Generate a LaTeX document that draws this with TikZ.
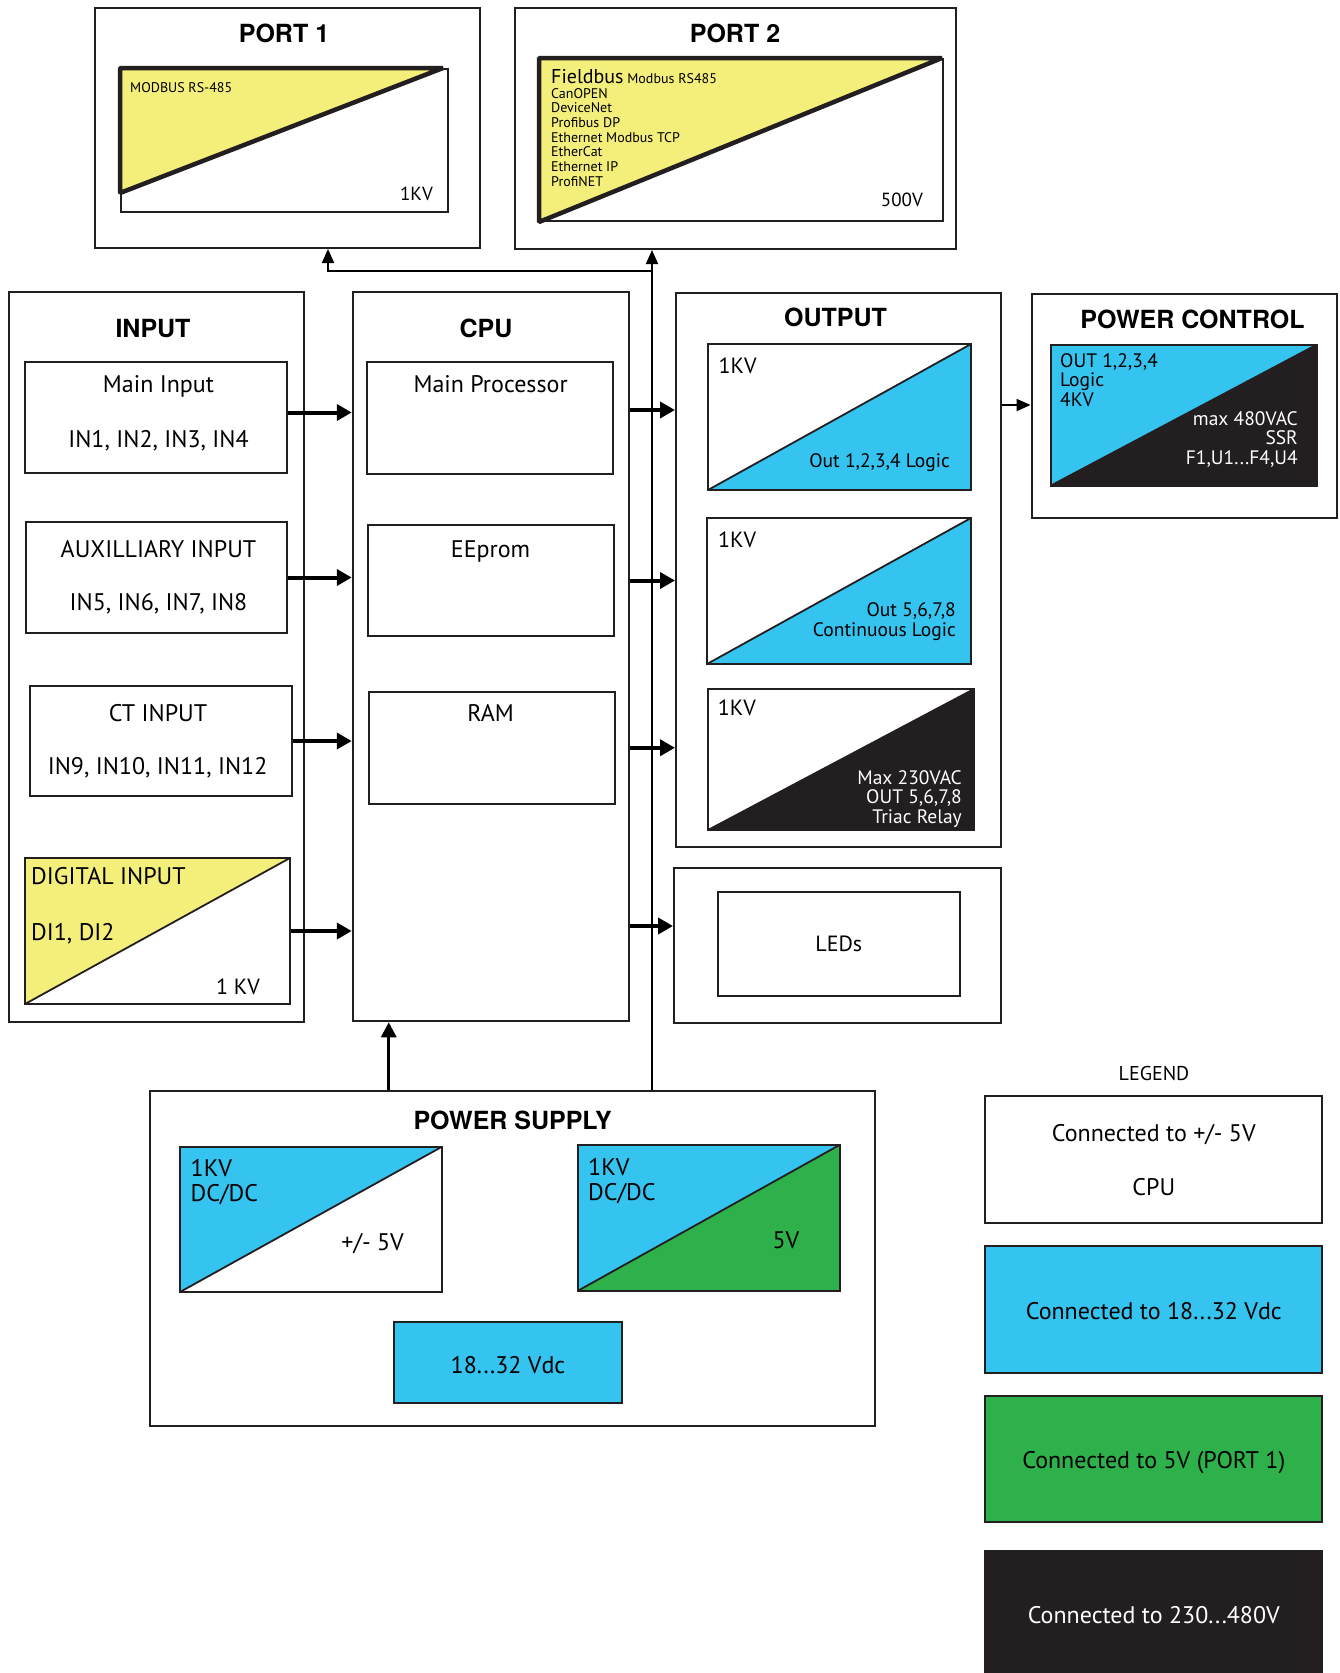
\documentclass[tikz,border=0pt]{standalone}
\usepackage{fontspec}
\setmainfont{PT Sans}
\newfontfamily\headfont{TeX Gyre Heros}
\usepackage{tikz}
\usetikzlibrary{arrows.meta, calc}
\definecolor{portyellow}{RGB}{244, 238, 122}
\definecolor{sigblue}{RGB}{53, 195, 239}
\definecolor{fivegreen}{RGB}{46, 176, 75}
\definecolor{mainsblack}{RGB}{35, 31, 32}

\tikzset{
    box/.style={draw=mainsblack, line width=2pt, inner sep=0pt},
    split/.style 2 args={path picture={
        \fill[#1] (path picture bounding box.south west) -- (path picture bounding box.north west) -- (path picture bounding box.north east) -- cycle;
        \fill[#2] (path picture bounding box.south west) -- (path picture bounding box.south east) -- (path picture bounding box.north east) -- cycle;
        \draw[mainsblack, line width=1.8pt] (path picture bounding box.south west) -- (path picture bounding box.north east);}},
    title/.style={font=\headfont\bfseries\fontsize{25}{30}\selectfont, inner sep=0pt, anchor=base},
    txt/.style={font=\fontsize{24}{25}\selectfont, inner sep=0pt},
    mid/.style={font=\fontsize{19.5}{19.5}\selectfont, inner sep=0pt},
    tiny/.style={font=\fontsize{19.5}{19.5}\selectfont, inner sep=0pt},
    small/.style={font=\fontsize{14}{14.7}\selectfont, inner sep=0pt},
    arr/.style={line width=4pt, -{Triangle[length=15pt, width=16pt]}},
    thinarr/.style={line width=2pt, -{Triangle[length=14pt, width=12pt]}},
}

\begin{document}
\begin{tikzpicture}[x=1pt, y=-1pt]
    \useasboundingbox (0,0) rectangle (1340,1673);

    % Ports
    \node[box, minimum width=385pt, minimum height=240pt] (port1) at (287.5,128) {};
    \node[box, minimum width=441pt, minimum height=241pt] (port2) at (735.5,128.5) {};
    \node[title] (port1t) at (284,42) {PORT 1};
    \node[title] (port2t) at (735,42) {PORT 2};
    \node[box, minimum width=327pt, minimum height=143pt] (p1in) at (284.5,140.5) {};
    \node[box, minimum width=403pt, minimum height=162pt] (p2in) at (741.5,140) {};
    \filldraw[fill=portyellow, draw=mainsblack, line width=4.5pt, line join=bevel] (p1in.north west) -- ($(p1in.north east)+(-6,0)$) -- ($(p1in.south west)+(0,-20)$) -- cycle;
    \filldraw[fill=portyellow, draw=mainsblack, line width=4.5pt, line join=bevel] (p2in.north west) -- ($(p2in.north east)+(-2,0)$) -- (p2in.south west) -- cycle;
    \node[small, anchor=base west] (p1bus) at (130,92) {MODBUS RS-485};
    \node[font=\fontsize{19}{20}\selectfont, inner sep=0pt, anchor=base east] (p1kv) at (433,200) {1KV};
    \node[small, anchor=north west, align=left] (p2bus) at (551,69) {{\fontsize{20}{20}\selectfont Fieldbus} Modbus RS485\\CanOPEN\\DeviceNet\\Profibus DP\\Ethernet Modbus TCP\\EtherCat\\Ethernet IP\\ProfiNET};
    \node[font=\fontsize{19}{20}\selectfont, inner sep=0pt, anchor=base east] (p2kv) at (923,206) {500V};

    % Input
    \node[box, minimum width=295pt, minimum height=730pt] (input) at (156,656.5) {};
    \node[title] (inputt) at (153,337.5) {INPUT};
    \node[box, minimum width=262pt, minimum height=111pt] (mainin) at (156,417.5) {};
    \node[txt, anchor=base] (mainin1) at (158.5,392.4) {Main Input};
    \node[txt, anchor=base] (mainin2) at (158.5,447.4) {IN1, IN2, IN3, IN4};
    \node[box, minimum width=261pt, minimum height=111pt] (auxin) at (156.5,577.5) {};
    \node[txt, anchor=base] (auxin1) at (158.5,557.4) {AUXILLIARY INPUT};
    \node[txt, anchor=base] (auxin2) at (158.5,610.4) {IN5, IN6, IN7, IN8};
    \node[box, minimum width=262pt, minimum height=110pt] (ctin) at (161,741) {};
    \node[txt, anchor=base] (ctin1) at (158,721.4) {CT INPUT};
    \node[txt, anchor=base] (ctin2) at (157.6,774.4) {IN9, IN10, IN11, IN12};
    \node[box, split={portyellow}{white}, minimum width=265pt, minimum height=146pt] (digin) at (157.5,931) {};
    \node[txt, anchor=base west] (digin1) at (31,884.4) {DIGITAL INPUT};
    \node[txt, anchor=base west] (digin2) at (31,940.4) {DI1, DI2};
    \node[font=\fontsize{22}{24}\selectfont, inner sep=0pt, anchor=base east] (diginkv) at (260,994.7) {1 KV};

    % CPU
    \node[box, minimum width=276.5pt, minimum height=729.5pt] (cpu) at (491,656.5) {};
    \node[title] (cput) at (486,337.5) {CPU};
    \node[box, minimum width=246pt, minimum height=112pt] (mainproc) at (490,418) {};
    \node[txt, anchor=base] (mainproct) at (490.6,392.4) {Main Processor};
    \node[box, minimum width=246pt, minimum height=111pt] (eeprom) at (491,580.5) {};
    \node[txt, anchor=base] (eepromt) at (490.6,557.4) {EEprom};
    \node[box, minimum width=246pt, minimum height=111.5pt] (ram) at (492,747.75) {};
    \node[txt, anchor=base] (ramt) at (490.6,721.4) {RAM};

    % Output
    \node[box, minimum width=324.5pt, minimum height=554pt] (output) at (838.25,570) {};
    \node[title] (outputt) at (835.6,326) {OUTPUT};
    \node[box, split={white}{sigblue}, minimum width=263pt, minimum height=146pt] (out1) at (839.5,417) {};
    \node[font=\fontsize{22}{24}\selectfont, inner sep=0pt, anchor=base west] (out1kv) at (718.5,373) {1KV};
    \node[mid, anchor=base east] (out1t) at (950,467) {Out 1,2,3,4 Logic};
    \node[box, split={white}{sigblue}, minimum width=264pt, minimum height=146pt] (out2) at (839,591) {};
    \node[font=\fontsize{22}{24}\selectfont, inner sep=0pt, anchor=base west] (out2kv) at (718,547) {1KV};
    \node[mid, anchor=north east, align=right] (out2t) at (956,602.6) {Out 5,6,7,8\\Continuous Logic};
    \node[box, split={white}{mainsblack}, minimum width=266pt, minimum height=141pt] (out3) at (841,759.5) {};
    \node[font=\fontsize{22}{24}\selectfont, inner sep=0pt, anchor=base west] (out3kv) at (717.7,715) {1KV};
    \node[tiny, text=white, anchor=north east, align=right] (out3t) at (962,770.4) {Max 230VAC\\OUT 5,6,7,8\\Triac Relay};

    % LEDs
    \node[box, minimum width=326.5pt, minimum height=155pt] (ledbox) at (837.25,945) {};
    \node[box, minimum width=242pt, minimum height=104pt] (leds) at (839,944) {};
    \node[font=\fontsize{22}{24}\selectfont, inner sep=0pt, anchor=base] (ledst) at (838.8,951.7) {LEDs};

    % Power control
    \node[box, minimum width=305.5pt, minimum height=224pt] (powctl) at (1184.25,405.5) {};
    \node[title] (powctlt) at (1192.5,328) {POWER CONTROL};
    \node[box, split={sigblue}{mainsblack}, minimum width=266pt, minimum height=141pt] (pcin) at (1184,415) {};
    \node[tiny, anchor=north west, align=left] (pcleft) at (1060,353) {OUT 1,2,3,4\\Logic\\4KV};
    \node[tiny, text=white, anchor=north east, align=right] (pcright) at (1298,411.4) {max 480VAC\\SSR\\F1,U1...F4,U4};

    % Power supply
    \node[box, minimum width=725pt, minimum height=335pt] (psupply) at (512.5,1258.5) {};
    \node[title] (psupplyt) at (512.6,1129) {POWER SUPPLY};
    \node[box, split={sigblue}{white}, minimum width=261.5pt, minimum height=145pt] (dcdc1) at (310.75,1219.5) {};
    \node[txt, anchor=north west, align=left] (dcdc1t) at (190.5,1159.6) {1KV\\DC/DC};
    \node[txt, anchor=base east] (dcdc1v) at (404,1250.4) {+/- 5V};
    \node[box, split={sigblue}{fivegreen}, minimum width=262pt, minimum height=146pt] (dcdc2) at (708.5,1218) {};
    \node[txt, anchor=north west, align=left] (dcdc2t) at (588,1158.2) {1KV\\DC/DC};
    \node[txt, anchor=base east] (dcdc2v) at (799.5,1248.4) {5V};
    \node[box, fill=sigblue, minimum width=228pt, minimum height=81pt] (vdc) at (508,1362.5) {};
    \node[txt, anchor=base] (vdct) at (508,1373.4) {18...32 Vdc};

    % Legend
    \node[font=\fontsize{20}{22}\selectfont, inner sep=0pt, anchor=base] (legendt) at (1154,1080) {LEGEND};
    \node[box, minimum width=337pt, minimum height=127pt] (leg1) at (1153.5,1159.5) {};
    \node[txt, anchor=base] (leg1a) at (1153.8,1141.4) {Connected to +/- 5V};
    \node[txt, anchor=base] (leg1b) at (1153.8,1195) {CPU};
    \node[box, fill=sigblue, minimum width=337pt, minimum height=127pt] (leg2) at (1153.5,1309.5) {};
    \node[txt, anchor=base] (leg2t) at (1153.8,1319.4) {Connected to 18...32 Vdc};
    \node[box, fill=fivegreen, minimum width=337pt, minimum height=126.5pt] (leg3) at (1153.5,1459) {};
    \node[txt, anchor=base] (leg3t) at (1153.8,1468.4) {Connected to 5V (PORT 1)};
    \node[box, fill=mainsblack, minimum width=337pt, minimum height=122pt] (leg4) at (1153.5,1612) {};
    \node[txt, text=white, anchor=base] (leg4t) at (1153.8,1623.4) {Connected to 230...480V};

    % Arrows into the CPU
    \draw[arr] ([yshift=5pt]mainin.east) -- ([yshift=5pt]mainin.east -| cpu.west);
    \draw[arr] (auxin.east) -- (auxin.east -| cpu.west);
    \draw[arr] (ctin.east) -- (ctin.east -| cpu.west);
    \draw[arr] (digin.east) -- (digin.east -| cpu.west);

    % Arrows out of the CPU
    \draw[arr] ($(cpu.east |- mainproc.east)+(0,-8)$) -- ($(output.west |- mainproc.east)+(0,-8)$);
    \draw[arr] (cpu.east |- eeprom.east) -- (output.west |- eeprom.east);
    \draw[arr] (cpu.east |- ram.east) -- (output.west |- ram.east);
    \draw[arr] ($(cpu.east |- ledbox.west)+(0,-19)$) -- ($(ledbox.west)+(0,-19)$);
    \draw[thinarr] ($(output.east |- pcin.west)+(0,-10)$) -- ($(powctl.west |- pcin.west)+(0,-10)$);

    % Supply lines
    \coordinate (feed) at ($(cpu.south west)+(37,0)$);
    \draw[line width=3pt, -{Triangle[length=15pt, width=15pt]}] (feed |- psupply.north) -- (feed);
    \coordinate (bus) at (652,271);
    \coordinate (p1feed) at (328,271);
    \draw[thinarr] (bus |- psupply.north) -- (bus |- port2.south);
    \draw[thinarr] (bus) -- (p1feed) -- (p1feed |- port1.south);
\end{tikzpicture}
\end{document}
